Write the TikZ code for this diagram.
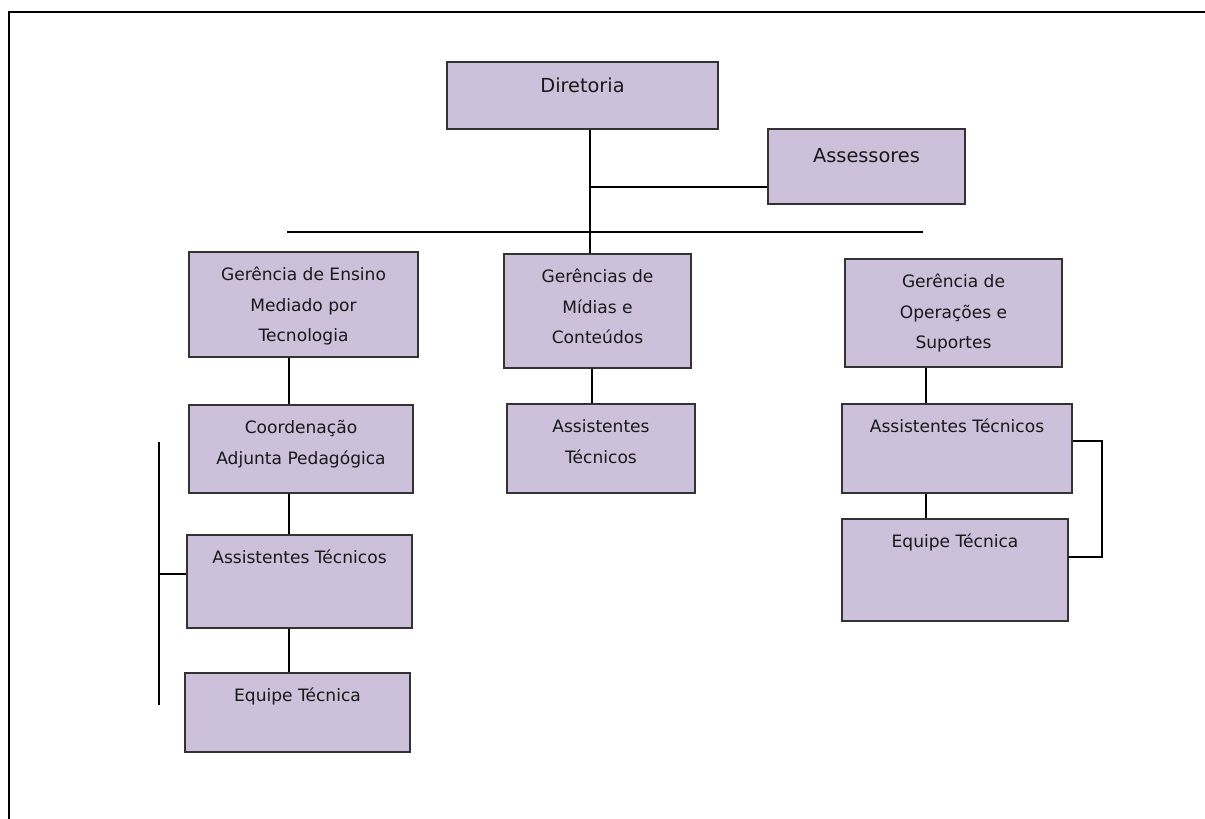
\documentclass[tikz,border=0pt]{standalone}
\usepackage{fontspec}
\setmainfont{DejaVu Sans}
\usetikzlibrary{fit,calc}
\definecolor{lilas}{HTML}{CCC0DA}

\begin{document}
\begin{tikzpicture}[x=0.75pt,y=-0.75pt,
  box/.style={draw=black!80, line width=1.1pt, fill=lilas, inner sep=0pt},
  txt/.style={anchor=north, align=center, inner sep=0pt, yshift=-5.5pt, text=black!90, font=\fontsize{12.8}{23}\selectfont},
  big/.style={txt, font=\fontsize{14.5}{23}\selectfont},
  link/.style={line width=1.2pt}]
\useasboundingbox (0,0) rectangle (1205,818);
\coordinate (frameBL) at (9,830);
\coordinate (frameTL) at (9,12);
\coordinate (frameTR) at (1215,12);
\draw[line width=1.4pt] (frameBL) -- (frameTL) -- (frameTR);

\node[box, fit={(447,62) (718,129)}, label={[big, yshift=-1.5pt]north:{\strut Diretoria}}] (dir) {};
\node[box, fit={(768,129) (965,204)}, label={[big, yshift=-3.5pt]north:{\strut Assessores}}] (ass) {};
\node[box, fit={(189,252) (418,357)}, label={[txt]north:{\strut Gerência de Ensino\\Mediado por\\Tecnologia}}] (gerEns) {};
\node[box, fit={(504,254) (691,368)}, label={[txt]north:{\strut Gerências de\\Mídias e\\Conteúdos}}] (gerMid) {};
\node[box, fit={(845,259) (1062,367)}, label={[txt]north:{\strut Gerência de\\Operações e\\Suportes}}] (gerOp) {};
\node[box, fit={(189,405) (413,493)}, label={[txt]north:{\strut Coordenação\\Adjunta Pedagógica}}] (coord) {};
\node[box, fit={(187,535) (412,628)}, label={[txt]north:{\strut Assistentes Técnicos}}] (ast1) {};
\node[box, fit={(185,673) (410,752)}, label={[txt]north:{\strut Equipe Técnica}}] (eq1) {};
\node[box, fit={(507,404) (695,493)}, label={[txt]north:{\strut Assistentes\\Técnicos}}] (ast2) {};
\node[box, fit={(842,404) (1072,493)}, label={[txt]north:{\strut Assistentes Técnicos}}] (ast3) {};
\node[box, fit={(842,519) (1068,621)}, label={[txt]north:{\strut Equipe Técnica}}] (eq3) {};

\coordinate (colA) at (289,0);
\coordinate (colB) at (592,0);
\coordinate (colC) at (926,0);
\coordinate (colD) at (590,0);
\coordinate (barL) at (287,232);
\coordinate (barR) at (923,232);
\coordinate (brTop) at (159,442);
\coordinate (brBot) at (159,705);
\coordinate (assIn) at ($(ass.south west)+(0,-18)$);
\coordinate (ast1In) at ($(ast1.north west)+(0,40)$);

\draw[link] (dir.south -| colD) -- (gerMid.north -| colD);
\draw[link] (assIn) -- (assIn -| colD);
\draw[link] (barL) -- (barR);
\draw[link] (gerEns.south -| colA) -- (coord.north -| colA);
\draw[link] (coord.south -| colA) -- (ast1.north -| colA);
\draw[link] (ast1.south -| colA) -- (eq1.north -| colA);
\draw[link] (brTop) -- (brBot);
\draw[link] (ast1In) -- (ast1In -| brTop);
\draw[link] (gerMid.south -| colB) -- (ast2.north -| colB);
\draw[link] (gerOp.south -| colC) -- (ast3.north -| colC);
\draw[link] (ast3.south -| colC) -- (eq3.north -| colC);
\draw[link] ($(ast3.north east)+(0,38)$) -- ++(29,0) |- ($(eq3.north east)+(0,39)$);
\end{tikzpicture}
\end{document}
